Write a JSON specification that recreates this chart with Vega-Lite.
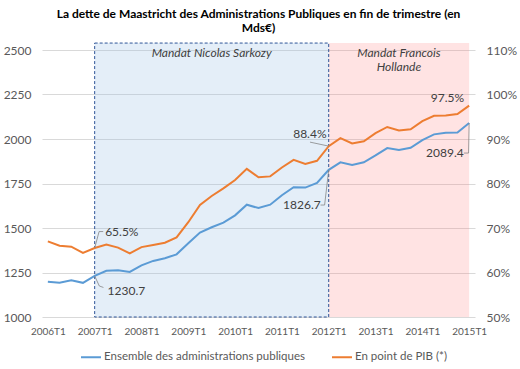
{
  "$schema": "https://vega.github.io/schema/vega-lite/v6.json",
  "width": 433,
  "height": 267,
  "autosize": {"type": "none"},
  "padding": {"left": 42, "top": 50, "right": 45, "bottom": 52},
  "background": "white",
  "title": {
    "text": ["La dette de Maastricht des Administrations Publiques en fin de trimestre (en", "Mds€)"],
    "font": "Lato",
    "fontSize": 12,
    "fontWeight": "bold",
    "color": "#000000",
    "anchor": "middle",
    "frame": "group",
    "lineHeight": 14,
    "offset": 8
  },
  "config": {
    "view": {"stroke": null},
    "axis": {
      "labelFont": "Lato",
      "labelFontSize": 12,
      "labelColor": "#595959",
      "domain": false,
      "ticks": false,
      "gridColor": "#D9D9D9",
      "gridWidth": 1
    },
    "text": {"font": "Lato", "fontSize": 12, "color": "#404040"}
  },
  "datasets": {
    "one": [{"item": "frame"}],
    "series": [
      {"q": "2006T1", "i": 0, "debt": 1198, "pct": 67.0},
      {"q": "2006T2", "i": 1, "debt": 1193, "pct": 66.0},
      {"q": "2006T3", "i": 2, "debt": 1206, "pct": 65.8},
      {"q": "2006T4", "i": 3, "debt": 1192, "pct": 64.4},
      {"q": "2007T1", "i": 4, "debt": 1230.7, "pct": 65.5},
      {"q": "2007T2", "i": 5, "debt": 1260, "pct": 66.3},
      {"q": "2007T3", "i": 6, "debt": 1262, "pct": 65.6},
      {"q": "2007T4", "i": 7, "debt": 1253, "pct": 64.3},
      {"q": "2008T1", "i": 8, "debt": 1290, "pct": 65.7},
      {"q": "2008T2", "i": 9, "debt": 1315, "pct": 66.2},
      {"q": "2008T3", "i": 10, "debt": 1330, "pct": 66.7},
      {"q": "2008T4", "i": 11, "debt": 1352, "pct": 67.9},
      {"q": "2009T1", "i": 12, "debt": 1414, "pct": 71.3},
      {"q": "2009T2", "i": 13, "debt": 1474, "pct": 75.2},
      {"q": "2009T3", "i": 14, "debt": 1504, "pct": 77.2},
      {"q": "2009T4", "i": 15, "debt": 1530, "pct": 78.9},
      {"q": "2010T1", "i": 16, "debt": 1571, "pct": 80.8},
      {"q": "2010T2", "i": 17, "debt": 1631, "pct": 83.3},
      {"q": "2010T3", "i": 18, "debt": 1612, "pct": 81.4},
      {"q": "2010T4", "i": 19, "debt": 1631, "pct": 81.6},
      {"q": "2011T1", "i": 20, "debt": 1684, "pct": 83.6},
      {"q": "2011T2", "i": 21, "debt": 1729, "pct": 85.3},
      {"q": "2011T3", "i": 22, "debt": 1727, "pct": 84.4},
      {"q": "2011T4", "i": 23, "debt": 1753, "pct": 85.1},
      {"q": "2012T1", "i": 24, "debt": 1826.7, "pct": 88.4},
      {"q": "2012T2", "i": 25, "debt": 1869, "pct": 90.2},
      {"q": "2012T3", "i": 26, "debt": 1854, "pct": 89.0},
      {"q": "2012T4", "i": 27, "debt": 1869, "pct": 89.5},
      {"q": "2013T1", "i": 28, "debt": 1908, "pct": 91.3},
      {"q": "2013T2", "i": 29, "debt": 1949, "pct": 92.7},
      {"q": "2013T3", "i": 30, "debt": 1938, "pct": 91.9},
      {"q": "2013T4", "i": 31, "debt": 1951, "pct": 92.2},
      {"q": "2014T1", "i": 32, "debt": 1994, "pct": 94.0},
      {"q": "2014T2", "i": 33, "debt": 2026, "pct": 95.2},
      {"q": "2014T3", "i": 34, "debt": 2035, "pct": 95.3},
      {"q": "2014T4", "i": 35, "debt": 2037, "pct": 95.6},
      {"q": "2015T1", "i": 36, "debt": 2089.4, "pct": 97.5}
    ],
    "blueLeaders": [
      {"x": 4, "y": 1230.7, "x2": 4.4, "y2": 1174},
      {"x": 4.4, "y": 1174, "x2": 4.75, "y2": 1166},
      {"x": 23.3, "y": 1629, "x2": 23.65, "y2": 1629},
      {"x": 23.65, "y": 1629, "x2": 24, "y2": 1826.7},
      {"x": 35.55, "y": 1921, "x2": 35.95, "y2": 1921},
      {"x": 35.95, "y": 1921, "x2": 36, "y2": 2089.4}
    ],
    "blueLabels": [
      {"x": 6.71, "y": 1146, "label": "1230.7"},
      {"x": 21.71, "y": 1629, "label": "1826.7"},
      {"x": 33.93, "y": 1921, "label": "2089.4"}
    ],
    "orangeLeaders": [
      {"x": 4, "y": 65.5, "x2": 4.38, "y2": 69.2},
      {"x": 4.38, "y": 69.2, "x2": 4.73, "y2": 69.2},
      {"x": 22.4, "y": 89.3, "x2": 24, "y2": 88.4}
    ],
    "orangeLabels": [
      {"x": 6.32, "y": 69.1, "label": "65.5%"},
      {"x": 22.39, "y": 91.1, "label": "88.4%"},
      {"x": 34.15, "y": 99.2, "label": "97.5%"}
    ]
  },
  "layer": [
    {
      "layer": [
        {
          "data": {"name": "one"},
          "mark": {"type": "rect", "fill": "#FF8080", "fillOpacity": 0.22, "clip": false},
          "encoding": {
            "x": {"datum": 24, "type": "quantitative", "scale": {"domain": [-0.5, 36.5], "nice": false, "zero": false}},
            "x2": {"datum": 36},
            "y": {"datum": 1000, "type": "quantitative", "scale": {"domain": [1000, 2500], "nice": false, "zero": false}, "title": null,
                  "axis": {"orient": "left", "values": [1000, 1250, 1500, 1750, 2000, 2250, 2500], "format": "d", "labelPadding": 11, "grid": true}},
            "y2": {"datum": 2539}
          }
        },
        {
          "data": {"name": "one"},
          "mark": {"type": "rect", "fill": "#9DC3E6", "fillOpacity": 0.28, "stroke": "#2F5597", "strokeWidth": 1, "strokeDash": [3, 2], "clip": false},
          "encoding": {
            "x": {"datum": 4, "type": "quantitative"},
            "x2": {"datum": 24},
            "y": {"datum": 1000, "type": "quantitative", "title": null},
            "y2": {"datum": 2539}
          }
        },
        {
          "data": {"name": "series"},
          "mark": {"type": "line", "strokeWidth": 2},
          "encoding": {
            "x": {"field": "i", "type": "quantitative", "title": null,
                  "axis": {"values": [0, 4, 8, 12, 16, 20, 24, 28, 32, 36], "labelExpr": "(2006 + datum.value/4) + 'T1'", "grid": false, "labelPadding": 9, "labelFontSize": 10}},
            "y": {"field": "debt", "type": "quantitative", "title": null},
            "color": {"datum": "Ensemble des administrations publiques", "type": "nominal",
                      "scale": {"domain": ["Ensemble des administrations publiques", "En point de PIB (*)"], "range": ["#5B9BD5", "#ED7D31"]},
                      "legend": {"title": null, "orient": "none", "legendX": 38, "legendY": 296, "direction": "horizontal",
                                 "symbolType": "stroke", "symbolStrokeWidth": 2, "symbolSize": 400, "labelFont": "Lato", "labelFontSize": 11.5,
                                 "labelColor": "#595959", "columnPadding": 22, "labelOffset": 2, "labelLimit": 400}}
          }
        },
        {
          "data": {"name": "blueLeaders"},
          "mark": {"type": "rule", "color": "#7F7F7F", "strokeWidth": 0.75},
          "encoding": {
            "x": {"field": "x", "type": "quantitative"},
            "x2": {"field": "x2"},
            "y": {"field": "y", "type": "quantitative", "title": null},
            "y2": {"field": "y2"}
          }
        },
        {
          "data": {"name": "blueLabels"},
          "mark": {"type": "text", "align": "center", "baseline": "middle"},
          "encoding": {
            "x": {"field": "x", "type": "quantitative"},
            "y": {"field": "y", "type": "quantitative", "title": null},
            "text": {"field": "label"}
          }
        },
        {
          "data": {"name": "one"},
          "mark": {"type": "text", "text": "Mandat Nicolas Sarkozy", "fontStyle": "italic", "align": "center", "baseline": "top"},
          "encoding": {
            "x": {"datum": 14, "type": "quantitative"},
            "y": {"datum": 2511, "type": "quantitative", "title": null}
          }
        },
        {
          "data": {"name": "one"},
          "mark": {"type": "text", "text": ["Mandat Francois", "Hollande"], "lineHeight": 14, "fontStyle": "italic", "align": "center", "baseline": "top"},
          "encoding": {
            "x": {"datum": 30, "type": "quantitative"},
            "y": {"datum": 2511, "type": "quantitative", "title": null}
          }
        }
      ]
    },
    {
      "layer": [
        {
          "data": {"name": "series"},
          "mark": {"type": "line", "strokeWidth": 2},
          "encoding": {
            "x": {"field": "i", "type": "quantitative"},
            "y": {"field": "pct", "type": "quantitative", "title": null,
                  "scale": {"domain": [50, 110], "nice": false, "zero": false},
                  "axis": {"orient": "right", "values": [50, 60, 70, 80, 90, 100, 110], "labelExpr": "datum.value + '%'", "grid": false, "labelPadding": 11}},
            "color": {"datum": "En point de PIB (*)", "type": "nominal"}
          }
        },
        {
          "data": {"name": "orangeLeaders"},
          "mark": {"type": "rule", "color": "#7F7F7F", "strokeWidth": 0.75},
          "encoding": {
            "x": {"field": "x", "type": "quantitative"},
            "x2": {"field": "x2"},
            "y": {"field": "y", "type": "quantitative", "title": null},
            "y2": {"field": "y2"}
          }
        },
        {
          "data": {"name": "orangeLabels"},
          "mark": {"type": "text", "align": "center", "baseline": "middle"},
          "encoding": {
            "x": {"field": "x", "type": "quantitative"},
            "y": {"field": "y", "type": "quantitative", "title": null},
            "text": {"field": "label"}
          }
        }
      ]
    }
  ],
  "resolve": {"scale": {"y": "independent"}, "axis": {"y": "independent"}}
}
